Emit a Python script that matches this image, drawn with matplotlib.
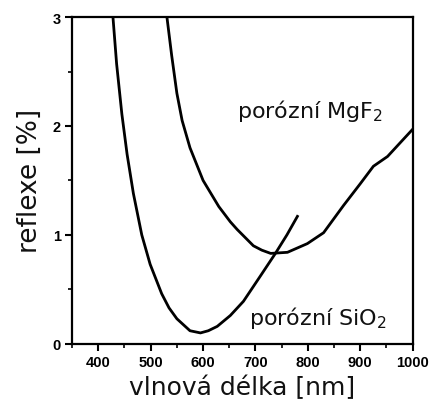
import matplotlib
matplotlib.use('Agg')
import matplotlib.pyplot as plt
from matplotlib.ticker import MultipleLocator

# ── data ──
sio2_wl = [428, 435, 445, 455, 467, 483, 499, 521, 535, 550, 575, 595, 610,
           627, 652, 677, 709, 738, 760, 780]
sio2_r = [3.0, 2.57, 2.11, 1.74, 1.38, 1.00, 0.73, 0.46, 0.33, 0.23, 0.12,
          0.10, 0.12, 0.16, 0.26, 0.39, 0.62, 0.83, 1.00, 1.17]

mgf2_wl = [531, 540, 550, 560, 575, 600, 630, 652, 665, 696, 712, 729, 761,
           799, 830, 868, 900, 925, 952, 975, 1000]
mgf2_r = [3.0, 2.65, 2.3, 2.05, 1.80, 1.50, 1.26, 1.12, 1.05, 0.90, 0.86,
          0.83, 0.84, 0.92, 1.02, 1.27, 1.47, 1.63, 1.72, 1.84, 1.97]

plt.rcParams['font.family'] = ['DejaVu Sans']

fig = plt.figure(figsize=(4.29, 4.10), dpi=100)
ax = fig.add_axes([0.168, 0.159, 0.794, 0.797])

ax.plot(sio2_wl, sio2_r, color='black', lw=2, solid_joinstyle='round')
ax.plot(mgf2_wl, mgf2_r, color='black', lw=2, solid_joinstyle='round')

ax.set_xlim(350, 1000)
ax.set_ylim(0, 3)
ax.xaxis.set_major_locator(MultipleLocator(100))
ax.xaxis.set_minor_locator(MultipleLocator(50))
ax.yaxis.set_major_locator(MultipleLocator(1))
ax.yaxis.set_minor_locator(MultipleLocator(0.5))
ax.set_xticks(range(400, 1001, 100))

for s in ax.spines.values():
    s.set_linewidth(1.6)
ax.tick_params(which='major', direction='out', length=5, width=1.5, pad=3)
ax.tick_params(which='minor', direction='out', length=3, width=1.2)
for lab in ax.get_xticklabels() + ax.get_yticklabels():
    lab.set_family('Liberation Sans')
    lab.set_fontweight('bold')
    lab.set_fontsize(10.5)

ax.set_xlabel('vlnová délka [nm]', fontsize=18, labelpad=4, color='#111111')
ax.set_ylabel('reflexe [%]', fontsize=19, labelpad=7, color='#111111')

ax.text(664, 2.08, 'porózní MgF$_2$', fontsize=16, ha='left', va='baseline', color='#111111')
ax.text(687, 0.18, 'porózní SiO$_2$', fontsize=16, ha='left', va='baseline', color='#111111')

fig.savefig('out.png', dpi=100, facecolor='white')
